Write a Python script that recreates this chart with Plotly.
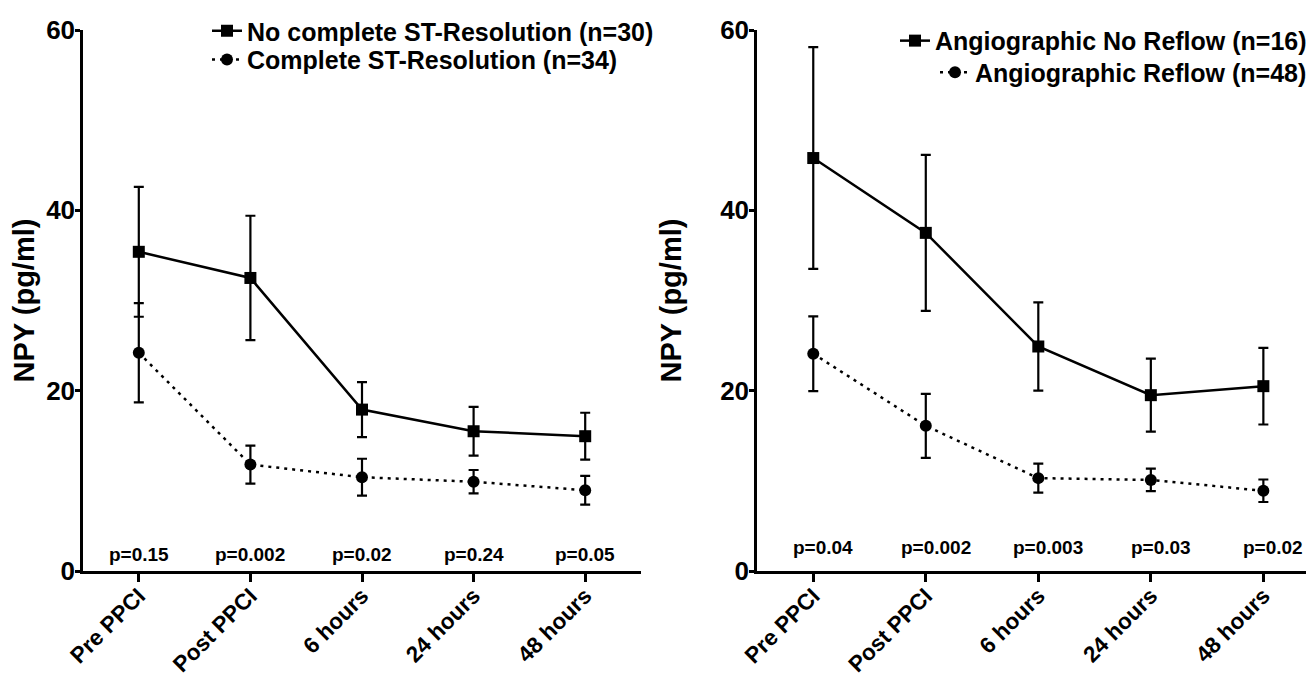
import plotly.graph_objects as go

categories = ["Pre PPCI", "Post PPCI", "6 hours", "24 hours", "48 hours"]

# Left panel: ST-resolution
st_no_mean = [35.4, 32.5, 17.9, 15.5, 14.95]
st_no_sem = [7.2, 6.9, 3.05, 2.7, 2.6]
st_yes_mean = [24.2, 11.8, 10.4, 9.9, 8.96]
st_yes_sem = [5.5, 2.1, 2.05, 1.3, 1.6]
st_pvals = ["p=0.15", "p=0.002", "p=0.02", "p=0.24", "p=0.05"]

# Right panel: angiographic reflow
nr_mean = [45.8, 37.5, 24.9, 19.5, 20.5]
nr_sem = [12.3, 8.65, 4.9, 4.05, 4.25]
rf_mean = [24.1, 16.1, 10.3, 10.1, 8.9]
rf_sem = [4.15, 3.55, 1.6, 1.25, 1.25]
ang_pvals = ["p=0.04", "p=0.002", "p=0.003", "p=0.03", "p=0.02"]

FONT = "Liberation Sans, Arial, sans-serif"
xi = list(range(len(categories)))

def bf(size):
    return dict(family=FONT, size=size, color="black", weight="bold")

def err(vals):
    return dict(type="data", array=vals, color="black", thickness=2.2, width=5)

fig = go.Figure()
fig.add_trace(go.Scatter(x=xi, y=st_no_mean, error_y=err(st_no_sem), mode="lines+markers",
                         name="No complete ST-Resolution (n=30)", legend="legend",
                         line=dict(color="black", width=2.5),
                         marker=dict(symbol="square", size=12, color="black"),
                         xaxis="x", yaxis="y"))
fig.add_trace(go.Scatter(x=xi, y=st_yes_mean, error_y=err(st_yes_sem), mode="lines+markers",
                         name="Complete ST-Resolution (n=34)", legend="legend2",
                         line=dict(color="black", width=2.5, dash="3px,5px"),
                         marker=dict(symbol="circle", size=12, color="black"),
                         xaxis="x", yaxis="y"))
fig.add_trace(go.Scatter(x=xi, y=nr_mean, error_y=err(nr_sem), mode="lines+markers",
                         name="Angiographic No Reflow (n=16)", legend="legend3",
                         line=dict(color="black", width=2.5),
                         marker=dict(symbol="square", size=12, color="black"),
                         xaxis="x2", yaxis="y2"))
fig.add_trace(go.Scatter(x=xi, y=rf_mean, error_y=err(rf_sem), mode="lines+markers",
                         name="Angiographic Reflow (n=48)", legend="legend4",
                         line=dict(color="black", width=2.5, dash="3px,5px"),
                         marker=dict(symbol="circle", size=12, color="black"),
                         xaxis="x2", yaxis="y2"))

for i, p in enumerate(st_pvals):
    fig.add_annotation(x=i, y=1.8, xref="x", yref="y", text=p, showarrow=False,
                       font=bf(19))
for i, p in enumerate(ang_pvals):
    fig.add_annotation(x=i, y=2.6, xref="x2", yref="y2", text=p, showarrow=False, xshift=10,
                       font=bf(19))

# the page body adds an 8px offset; the figure is sized to fill the rest of the window
W, H = 1306, 671
T, B = 16, 108
PH = H - T - B
axis_common = dict(showline=True, linecolor="black", linewidth=2.5, ticks="outside",
                   tickcolor="black", tickwidth=2.5, showgrid=False, zeroline=False,
                   automargin=False)

xcommon = dict(axis_common, tickmode="array", tickvals=xi, ticktext=categories,
               tickangle=-45, ticklen=8, ticklabelstandoff=-8, tickfont=bf(22.5))
ycommon = dict(axis_common, range=[0, 60], tickvals=[0, 20, 40, 60], ticklen=5,
               ticklabelstandoff=-5, tickfont=bf(26),
               title=dict(text="NPY (pg/ml)", font=bf(29), standoff=30))

leg_font = bf(25)

def leg(xpx, ypx, anchor="left"):
    return dict(x=xpx / W, xanchor=anchor, y=(H - B - ypx) / PH, yanchor="middle",
                font=leg_font, bgcolor="rgba(0,0,0,0)", itemwidth=30)

fig.update_layout(
    width=W, height=H,
    margin=dict(l=0, r=0, t=T, b=B),
    paper_bgcolor="white", plot_bgcolor="white",
    font=dict(family=FONT, color="black"),
    showlegend=True,
    xaxis=dict(xcommon, domain=[75 / W, 633 / W], range=[-0.5, 4.5], anchor="y"),
    yaxis=dict(ycommon, domain=[0, 1], anchor="x"),
    xaxis2=dict(xcommon, domain=[749 / W, 1.0], range=[-0.5, 4.45], anchor="y2"),
    yaxis2=dict(ycommon, domain=[0, 1], anchor="x2"),
    legend=leg(199, 17),
    legend2=leg(199, 46),
    legend3=leg(1304, 27, "right"),
    legend4=leg(1304, 59, "right"),
)

fig.write_html("out.html")
